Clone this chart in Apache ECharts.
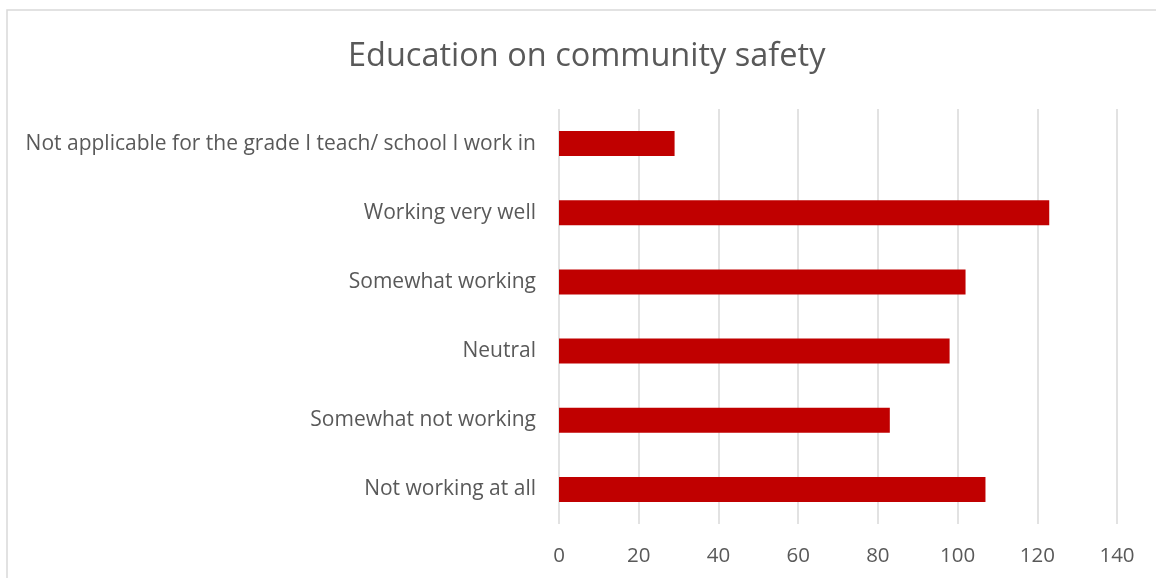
<!DOCTYPE html>
<html>
<head>
<meta charset="utf-8">
<script src="https://cdn.jsdelivr.net/npm/echarts@6/dist/echarts.min.js"></script>
<style>
  html, body { margin: 0; padding: 0; background: #ffffff; }
  #chart { width: 1156px; height: 578px; }
</style>
</head>
<body>
<div id="chart"></div>
<script>
// Survey responses, listed bottom-to-top as drawn on the category axis
const categories = [
  'Not working at all',
  'Somewhat not working',
  'Neutral',
  'Somewhat working',
  'Working very well',
  'Not applicable for the grade I teach/ school I work in'
];
const responses = [107, 83, 98, 102, 123, 29];
const valueTicks = [0, 20, 40, 60, 80, 100, 120, 140];

const chart = echarts.init(document.getElementById('chart'));
const FONT = 'Open Sans';

chart.setOption({
  animation: false,
  backgroundColor: '#ffffff',
  graphic: [{
    type: 'rect',
    shape: { x: 7, y: 10, width: 1300, height: 700 },
    style: { fill: 'none', stroke: '#d9d9d9', lineWidth: 1.5 },
    silent: true
  }],
  title: {
    text: 'Education on community safety',
    left: 343,
    top: 35,
    textStyle: { fontFamily: FONT, fontSize: 32.5, fontWeight: 'normal', color: '#595959' }
  },
  grid: { left: 559, right: 39, top: 109, bottom: 54, containLabel: false },
  xAxis: {
    type: 'value',
    min: valueTicks[0],
    max: valueTicks[valueTicks.length - 1],
    interval: valueTicks[1] - valueTicks[0],
    axisLine: { show: false },
    axisTick: { show: false },
    splitLine: { show: true, lineStyle: { color: '#d9d9d9', width: 1.5 } },
    axisLabel: { fontFamily: FONT, fontSize: 20.5, color: '#595959', margin: 22 }
  },
  yAxis: {
    type: 'category',
    data: categories,
    axisLine: { show: false },
    axisTick: { show: false },
    axisLabel: { fontFamily: FONT, fontSize: 21, color: '#595959', margin: 23, padding: [2, 0, 0, 0] }
  },
  series: [{
    type: 'bar',
    data: responses,
    barWidth: 25,
    itemStyle: { color: '#c00000' }
  }]
});
</script>
</body>
</html>
